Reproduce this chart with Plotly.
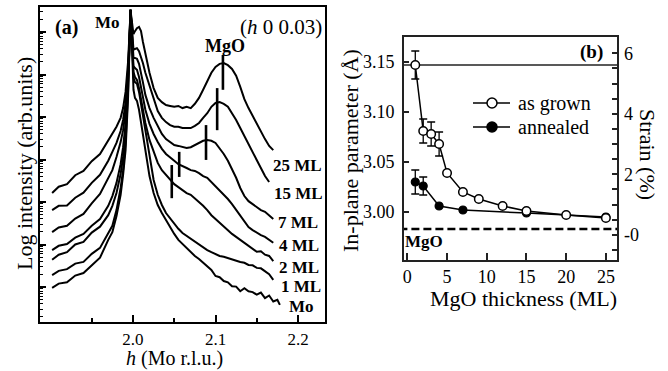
import math
import plotly.graph_objects as go

W, Hpx = 668, 371
FONT = "Liberation Serif"

# ---------------- Panel (a) data: log10 intensity vs h ----------------
h_vals = [1.902, 1.91, 1.92, 1.93, 1.94, 1.95, 1.96, 1.97, 1.975, 1.98, 1.985, 1.988, 1.991, 1.994,
          1.996, 1.997, 1.998, 1.9994, 2.0006, 2.0024, 2.0048, 2.0073, 2.0097, 2.012, 2.015, 2.02,
          2.025, 2.03, 2.035, 2.04, 2.045, 2.05, 2.055, 2.06, 2.065, 2.07, 2.075, 2.08, 2.085, 2.09,
          2.095, 2.10, 2.105, 2.11, 2.115, 2.12, 2.125, 2.13, 2.135, 2.14, 2.145, 2.15, 2.155, 2.16,
          2.165, 2.17, 2.175, 2.178]

log_25ML = [3.21, 3.36, 3.42, 3.63, 3.73, 3.96, 4.13, 4.44, 4.60, 4.77, 4.98, 5.21, 5.59, 6.29, 7.05, 7.52,
            7.35, 7.05, 6.95, 7.02, 7.09, 7.12, 7.02, 6.77, 6.46, 6.04, 5.68, 5.45, 5.35, 5.28, 5.26, 5.24,
            5.26, 5.21, 5.24, 5.21, 5.31, 5.45, 5.64, 5.85, 6.04, 6.18, 6.25, 6.27, 6.22, 6.13, 5.97, 5.71,
            5.42, 5.21, 5.02, 4.86, 4.67, 4.48, 4.32, 4.22, None, None]
log_15ML = [2.81, 2.91, 2.92, 3.10, 3.22, 3.45, 3.64, 3.97, 4.18, 4.39, 4.67, 4.93, 5.33, 6.11, 6.93, 7.52,
            7.28, 6.86, 6.58, 6.60, 6.62, 6.55, 6.41, 6.27, 6.04, 5.73, 5.40, 5.14, 4.98, 4.88, 4.81, 4.77,
            4.77, 4.74, 4.74, 4.74, 4.79, 4.86, 4.98, 5.09, 5.24, 5.33, 5.35, 5.31, 5.24, 5.09, 4.93, 4.74,
            4.55, 4.37, 4.18, 3.99, 3.80, 3.61, 3.47, None, None, None]
log_7ML = [2.29, 2.40, 2.44, 2.61, 2.72, 2.97, 3.19, 3.54, 3.75, 4.06, 4.41, 4.69, 5.14, 5.99, 6.86, 7.52,
           7.24, 6.77, 6.39, 6.39, 6.37, 6.25, 6.06, 5.82, 5.52, 5.21, 4.98, 4.77, 4.60, 4.48, 4.41, 4.34,
           4.32, 4.29, 4.27, 4.29, 4.34, 4.39, 4.44, 4.46, 4.44, 4.39, 4.27, 4.13, 3.97, 3.78, 3.57, 3.33,
           3.14, 3.02, 2.95, 2.88, 2.81, 2.77, 2.69, 2.60, None, None]
log_4ML = [1.87, 1.97, 2.01, 2.16, 2.25, 2.44, 2.60, 2.91, 3.14, 3.45, 3.89, 4.29, 4.84, 5.82, 6.81, 7.52,
           7.21, 6.67, 6.20, 6.15, 6.11, 5.94, 5.71, 5.45, 5.17, 4.84, 4.60, 4.41, 4.25, 4.13, 4.04, 3.97,
           3.89, 3.85, 3.80, 3.75, 3.73, 3.68, 3.61, 3.57, 3.47, 3.38, 3.28, 3.19, 3.07, 2.95, 2.81, 2.67,
           2.53, 2.41, 2.34, 2.27, 2.22, 2.18, 2.11, 2.04, None, None]
log_2ML = [1.64, 1.76, 1.82, 2.00, 2.06, 2.28, 2.42, 2.69, 2.91, 3.21, 3.66, 4.06, 4.65, 5.73, 6.77, 7.52,
           7.19, 6.62, 6.06, 5.94, 5.87, 5.68, 5.40, 5.14, 4.86, 4.46, 4.18, 3.92, 3.75, 3.64, 3.52, 3.42,
           3.35, 3.28, 3.21, 3.17, 3.09, 3.00, 2.91, 2.81, 2.69, 2.60, 2.51, 2.41, 2.32, 2.25, 2.18, 2.11,
           2.04, 1.97, 1.91, 1.83, 1.84, 1.76, 1.73, 1.61, None, None]
log_1ML = [1.28, 1.38, 1.42, 1.55, 1.59, 1.78, 1.92, 2.25, 2.44, 2.81, 3.33, 3.75, 4.41, 5.59, 6.69, 7.52,
           7.17, 6.58, 5.92, 5.82, 5.78, 5.59, 5.31, 5.05, 4.69, 4.06, 3.52, 3.17, 2.93, 2.74, 2.62, 2.48,
           2.37, 2.27, 2.20, 2.13, 2.06, 1.99, 1.92, 1.87, 1.82, 1.78, 1.73, 1.71, 1.68, 1.64, 1.61, 1.59,
           1.57, 1.52, 1.51, 1.45, 1.44, 1.36, 1.30, 1.17, None, None]
log_Mo = [0.98, 1.08, 1.11, 1.27, 1.33, 1.52, 1.69, 2.11, 2.29, 2.67, 3.17, 3.64, 4.22, 5.45, 6.62, 7.52,
          7.14, 6.46, 5.64, 5.45, 5.38, 5.17, 4.86, 4.58, 4.22, 3.61, 3.21, 2.93, 2.74, 2.58, 2.39, 2.25,
          2.11, 2.01, 1.92, 1.82, 1.73, 1.66, 1.57, 1.47, 1.40, 1.26, 1.23, 1.14, 1.11, 1.02, 1.01, 0.90,
          0.97, 0.90, 0.88, 0.82, 0.87, 0.74, 0.80, 0.66, 0.70, 0.58]

curve_names = ["25 ML", "15 ML", "7 ML", "4 ML", "2 ML", "1 ML", "Mo"]
curve_data = [log_25ML, log_15ML, log_7ML, log_4ML, log_2ML, log_1ML, log_Mo]

# MgO peak position markers (vertical bars)
mgo_peak_h = [2.109, 2.102, 2.0885, 2.056, 2.047]
mgo_bar_low = [5.64, 4.69, 3.99, 3.59, 3.09]
mgo_bar_high = [6.46, 5.68, 4.81, 4.18, 3.87]

h_ticks = [2.0, 2.1, 2.2]
h_tick_labels = ["2.0", "2.1", "2.2"]
h_minor = [1.95, 2.05, 2.15]

# ---------------- Panel (b) data ----------------
grown_ml = [1, 2, 3, 4, 5, 7, 9, 12, 15, 20, 25]
grown_a = [3.147, 3.081, 3.078, 3.068, 3.039, 3.020, 3.013, 3.006, 3.001, 2.997, 2.994]
grown_err = [0.014, 0.012, 0.012, 0.012, 0, 0, 0, 0, 0, 0, 0]
annealed_ml = [1, 2, 4, 7, 15, 25]
annealed_a = [3.030, 3.026, 3.006, 3.002, 2.999, 2.995]
annealed_err = [0.012, 0.009, 0, 0, 0, 0]
mo_bulk_a = 3.147
mgo_a = 2.983

ml_ticks = [0, 5, 10, 15, 20, 25]
a_ticks = [3.00, 3.05, 3.10, 3.15]
a_tick_labels = ["3.00", "3.05", "3.10", "3.15"]
strain_range = [-0.833, 6.54]
strain_ticks = [-0.5, 0, 0.5, 1, 1.5, 2, 2.5, 3, 3.5, 4, 4.5, 5, 5.5, 6]
strain_labels = ["", "-0", "", "", "", "2", "", "", "", "4", "", "", "", "6"]


def px(x):
    return x / W


def py(y):
    return 1 - y / Hpx


fig = go.Figure()

# panel (a) curves
for name, ys in zip(curve_names, curve_data):
    fig.add_trace(go.Scatter(x=h_vals, y=ys, mode="lines", name=name,
                             line=dict(color="black", width=2), xaxis="x", yaxis="y",
                             showlegend=False, connectgaps=False))

bx, by = [], []
for hh, lo, hi in zip(mgo_peak_h, mgo_bar_low, mgo_bar_high):
    bx += [hh, hh, None]
    by += [lo, hi, None]
fig.add_trace(go.Scatter(x=bx, y=by, mode="lines", line=dict(color="black", width=2.6),
                         xaxis="x", yaxis="y", showlegend=False))

# panel (b)
fig.add_trace(go.Scatter(x=[-1, 27], y=[mo_bulk_a, mo_bulk_a], mode="lines",
                         line=dict(color="#222", width=1.5), xaxis="x2", yaxis="y2", showlegend=False))
fig.add_trace(go.Scatter(x=[-1, 27], y=[mgo_a, mgo_a], mode="lines",
                         line=dict(color="black", width=2.6, dash="8px,4px"), xaxis="x2", yaxis="y2",
                         showlegend=False))
fig.add_trace(go.Scatter(x=annealed_ml, y=annealed_a, mode="lines+markers", name="annealed",
                         line=dict(color="black", width=1.5),
                         marker=dict(symbol="circle", size=8, color="black", line=dict(color="black", width=1.2)),
                         error_y=dict(type="data", array=annealed_err, visible=True, color="black",
                                      thickness=1.3, width=4),
                         xaxis="x2", yaxis="y2", showlegend=False))
fig.add_trace(go.Scatter(x=grown_ml, y=grown_a, mode="lines+markers", name="as grown",
                         line=dict(color="black", width=1.5),
                         marker=dict(symbol="circle", size=8.5, color="white", line=dict(color="black", width=1.5)),
                         error_y=dict(type="data", array=grown_err, visible=True, color="black",
                                      thickness=1.3, width=4),
                         xaxis="x2", yaxis="y2", showlegend=False))
# invisible trace so the right-hand strain axis is drawn
fig.add_trace(go.Scatter(x=[0, 0], y=strain_range, mode="markers", marker=dict(opacity=0),
                         xaxis="x2", yaxis="y3", showlegend=False, hoverinfo="skip"))

# minor log ticks for panel (a)
ylog_minor = []
for n in range(0, 8):
    for k in range(2, 10):
        v = n + math.log10(k)
        if 0.18 <= v <= 7.58:
            ylog_minor.append(v)

axis_font = dict(family=FONT, size=18, color="black")

fig.update_layout(
    width=W, height=Hpx, margin=dict(l=0, r=0, t=0, b=0),
    paper_bgcolor="white", plot_bgcolor="white",
    xaxis=dict(domain=[px(40), px(325)], anchor="y", range=[1.8873, 2.2327],
               tickmode="array", tickvals=h_ticks, ticktext=h_tick_labels,
               ticks="inside", ticklen=7, tickwidth=1.5, tickcolor="black",
               minor=dict(tickmode="array", tickvals=h_minor, ticks="inside", ticklen=4,
                          tickwidth=1.5, tickcolor="black"),
               showline=True, linecolor="black", linewidth=1.8, mirror=True,
               showgrid=False, zeroline=False,
               tickfont=dict(family=FONT, size=17, color="black"), ticklabelstandoff=1),
    yaxis=dict(domain=[py(322), py(7)], anchor="x", range=[0.177, 7.588],
               tickmode="array", tickvals=list(range(1, 8)), showticklabels=False,
               ticks="inside", ticklen=6, tickwidth=1.5, tickcolor="black",
               minor=dict(tickmode="array", tickvals=ylog_minor, ticks="inside", ticklen=3,
                          tickwidth=1, tickcolor="black"),
               showline=True, linecolor="black", linewidth=1.8, mirror=True,
               showgrid=False, zeroline=False),
    xaxis2=dict(domain=[px(404), px(617)], anchor="y2", range=[-0.42, 26.4],
                tickmode="array", tickvals=ml_ticks,
                ticks="inside", ticklen=7, tickwidth=1.5, tickcolor="#222",
                showline=True, linecolor="#222", linewidth=1.8, mirror=True,
                showgrid=False, zeroline=False, tickfont=axis_font, ticklabelstandoff=-1),
    yaxis2=dict(domain=[py(260), py(37)], anchor="x2", range=[2.952, 3.175],
                tickmode="array", tickvals=a_ticks, ticktext=a_tick_labels,
                ticks="inside", ticklen=5, tickwidth=1.5, tickcolor="#222",
                showline=True, linecolor="#222", linewidth=1.8, mirror=True,
                showgrid=False, zeroline=False, tickfont=axis_font, ticklabelstandoff=4),
    yaxis3=dict(domain=[py(260), py(37)], anchor="x2", overlaying="y2", side="right",
                range=strain_range, tickmode="array", tickvals=strain_ticks, ticktext=strain_labels,
                ticks="inside", ticklen=5, tickwidth=1.5, tickcolor="#222",
                showline=False, showgrid=False, zeroline=False, tickfont=axis_font,
                ticklabelstandoff=6),
)

ann = []


def add_text(text, x, y, size, xanchor="center", bold=False, angle=0, yanchor="middle"):
    t = f"<b>{text}</b>" if bold else text
    ann.append(dict(text=t, x=px(x), y=py(y), xref="paper", yref="paper", showarrow=False,
                    xanchor=xanchor, yanchor=yanchor, textangle=angle, borderpad=0,
                    font=dict(family=FONT, size=size, color="black")))


# panel (a) texts
add_text("(a)", 66, 27, 20, bold=True)
add_text("Mo", 107, 22, 17, bold=True)
add_text("(<i>h</i> 0 0.03)", 281, 27, 21)
add_text("MgO", 225, 46, 18, bold=True)
label_pos = [(272, 165), (273, 193), (277, 222), (278, 245), (278, 267), (280, 286), (288, 306)]
for name, (lx, ly) in zip(curve_names, label_pos):
    add_text(name, lx, ly, 17, xanchor="left", bold=True)
add_text("Log intensity (arb.units)", 25, 164, 22, angle=-90)
add_text("<i>h</i> (Mo r.l.u.)", 174, 371, 20, yanchor="bottom")

# panel (b) texts
add_text("(b)", 591, 52, 19, bold=True)
add_text("MgO", 424, 241, 17, bold=True)
add_text("In-plane parameter (Å)", 350, 151, 22, angle=-90)
add_text("Strain (%)", 648, 154, 22, angle=90)
add_text("MgO thickness (ML)", 523, 298, 22)
add_text("as grown", 517, 103, 20, xanchor="left")
add_text("annealed", 517, 127, 20, xanchor="left")
fig.update_layout(annotations=ann)

# manual legend glyphs
shapes = []
for yy, fill in [(103, "white"), (127, "black")]:
    shapes.append(dict(type="line", xref="paper", yref="paper", x0=px(473), x1=px(510),
                       y0=py(yy), y1=py(yy), line=dict(color="black", width=1.5)))
    shapes.append(dict(type="circle", xref="paper", yref="paper", xsizemode="pixel", ysizemode="pixel",
                       xanchor=px(492), yanchor=py(yy), x0=-5, x1=5, y0=-5, y1=5,
                       fillcolor=fill, line=dict(color="black", width=1.5)))
fig.update_layout(shapes=shapes)

fig.write_html("out.html")
